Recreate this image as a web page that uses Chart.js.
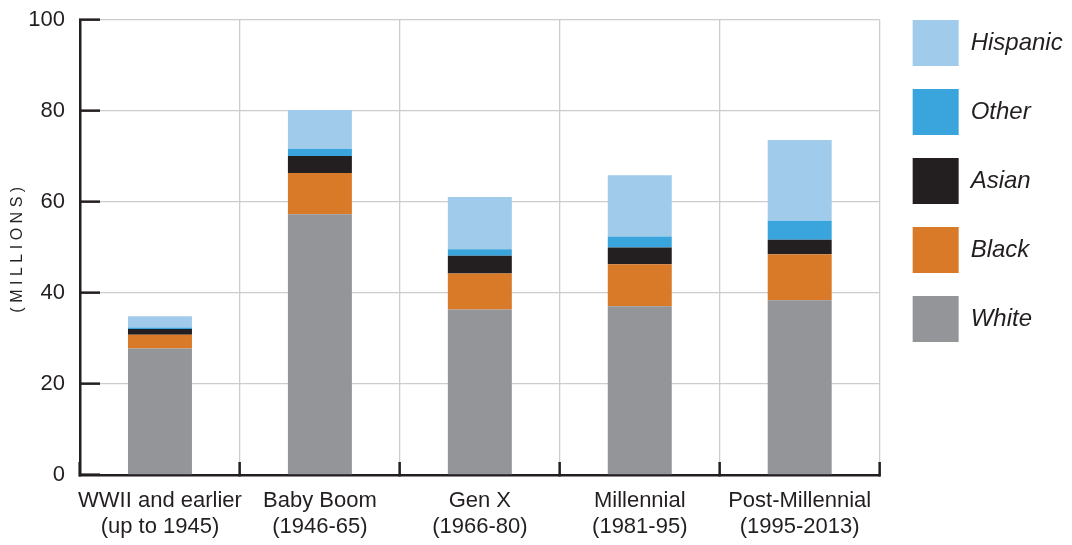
<!DOCTYPE html>
<html>
<head>
<meta charset="utf-8">
<script src="https://cdn.jsdelivr.net/npm/chart.js@4"></script>
<style>
html,body{margin:0;padding:0;background:#fff;}
#wrap{width:1072px;height:545px;position:relative;}
</style>
</head>
<body>
<div id="wrap"><canvas id="c" width="1072" height="545"></canvas></div>
<script>
const categories = [
  ['WWII and earlier', '(up to 1945)'],
  ['Baby Boom', '(1946-65)'],
  ['Gen X', '(1966-80)'],
  ['Millennial', '(1981-95)'],
  ['Post-Millennial', '(1995-2013)']
];
const white    = [27.8, 57.3, 36.4, 37.1, 38.4];
const black    = [3.0, 9.1, 7.9, 9.2, 10.1];
const asian    = [1.3, 3.7, 3.9, 3.7, 3.2];
const other    = [0.3, 1.6, 1.4, 2.4, 4.2];
const hispanic = [2.5, 8.5, 11.5, 13.5, 17.7];
const yTicks = [0, 20, 40, 60, 80, 100];

const FONT = "'Liberation Sans', Arial, Helvetica, sans-serif";
const INK = '#231F20';

const letterSpacingTitle = {
  id: 'letterSpacingTitle',
  beforeDraw(chart) {
    const s = chart.scales.y;
    if (s && !s.__patched) {
      const orig = s.drawTitle.bind(s);
      s.drawTitle = function() {
        const ctx = this.ctx;
        ctx.save();
        ctx.letterSpacing = '4.5px';
        orig();
        ctx.restore();
      };
      s.__patched = true;
    }
  }
};

new Chart(document.getElementById('c'), {
  type: 'bar',
  data: {
    labels: categories,
    datasets: [
      { label: 'White', data: white, backgroundColor: '#939598' },
      { label: 'Black', data: black, backgroundColor: '#D87A28' },
      { label: 'Asian', data: asian, backgroundColor: '#231F20' },
      { label: 'Other', data: other, backgroundColor: '#3AA5DC' },
      { label: 'Hispanic', data: hispanic, backgroundColor: '#A0CBEA' }
    ]
  },
  options: {
    responsive: false,
    animation: false,
    devicePixelRatio: 1,
    layout: { padding: { left: 8, right: 6, top: -3, bottom: 0 } },
    datasets: { bar: { barPercentage: 0.8, categoryPercentage: 0.5, borderWidth: 0 } },
    plugins: {
      tooltip: { enabled: false },
      legend: {
        position: 'right',
        align: 'start',
        reverse: true,
        labels: {
          boxWidth: 46,
          boxHeight: 46,
          padding: 23,
          color: INK,
          font: { family: FONT, size: 24, style: 'italic' }
        }
      }
    },
    scales: {
      x: {
        stacked: true,
        afterFit(scale) { scale.height = 70; },
        grid: { offset: true, color: '#CCCCCC', lineWidth: 1.3, tickColor: INK, tickLength: -13, tickWidth: 2.5, drawTicks: true },
        border: { color: INK, width: 2.5 },
        ticks: { color: INK, padding: 26, autoSkip: false, maxRotation: 0, minRotation: 0,
                 font: { family: FONT, size: 22, lineHeight: 1.18 } }
      },
      y: {
        stacked: true,
        min: 0,
        max: 100,
        afterFit(scale) { scale.width = 72; scale.paddingTop = 20; },
        afterBuildTicks(scale) { scale.ticks = yTicks.map(v => ({ value: v })); },
        grid: { color: '#CCCCCC', lineWidth: 1.3, tickColor: INK, tickLength: -20, tickWidth: 2.5 },
        border: { color: INK, width: 2.5 },
        ticks: { color: INK, padding: 35, font: { family: FONT, size: 22 } },
        title: { display: true, text: '(MILLIONS)', color: INK, padding: 0, font: { family: FONT, size: 16 } }
      },
      gap: {
        type: 'linear',
        position: 'right',
        display: true,
        afterFit(scale) { scale.width = 10; },
        grid: { display: false, drawTicks: false },
        border: { display: false },
        ticks: { display: false }
      }
    }
  },
  plugins: [letterSpacingTitle]
});
</script>
</body>
</html>
